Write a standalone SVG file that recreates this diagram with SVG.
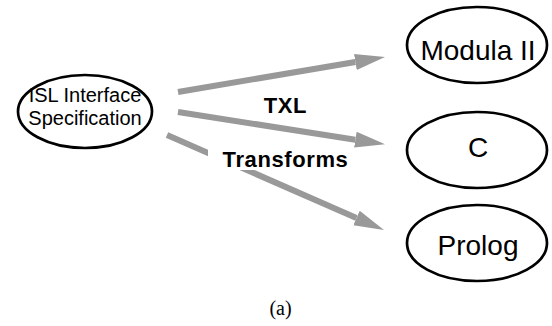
<svg xmlns="http://www.w3.org/2000/svg" width="552" height="326" viewBox="0 0 552 326">
  <style>
    .node { fill: #ffffff; stroke: #000000; stroke-width: 2.7; }
    .lbl { font-family: "Liberation Sans", Arial, Helvetica, sans-serif; fill: #000000; text-anchor: middle; }
    .big { font-size: 28px; }
    .small { font-size: 20px; }
    .edge-lbl { font-family: "Liberation Sans", Arial, Helvetica, sans-serif; font-weight: bold; font-size: 22px; fill: #000000; text-anchor: middle; letter-spacing: 0.6px; }
    .conn { stroke: #999999; stroke-width: 6; fill: none; marker-end: url(#ah); }
    .cap { font-family: "Liberation Serif", "Times New Roman", serif; font-size: 20px; fill: #000000; text-anchor: middle; }
  </style>
  <defs>
    <marker id="ah" markerUnits="userSpaceOnUse" markerWidth="32" markerHeight="18" viewBox="0 -9 32 18" refX="0" refY="0" orient="auto">
      <path d="M0,-8 L30,0 L0,8 z" fill="#999999"/>
    </marker>
  </defs>

  <rect width="552" height="326" fill="#ffffff"/>

  <g id="connectors">
    <line class="conn" x1="178" y1="92" x2="355.4" y2="62"/>
    <line class="conn" x1="178" y1="112" x2="355.4" y2="139.7"/>
    <line class="conn" x1="167" y1="135" x2="356.5" y2="218"/>
  </g>

  <g id="label-txl">
    <text class="edge-lbl" x="285.5" y="112.7">TXL</text>
  </g>
  <g id="label-transforms">
    <rect x="208" y="144" width="144" height="26" fill="#ffffff"/>
    <text class="edge-lbl" x="285.5" y="166.7">Transforms</text>
  </g>

  <g id="node-isl">
    <ellipse class="node" cx="85" cy="111.5" rx="67" ry="36.5"/>
    <text class="lbl small" x="85" y="101.7">ISL Interface</text>
    <text class="lbl small" x="85" y="125">Specification</text>
  </g>

  <g id="node-modula">
    <ellipse class="node" cx="477" cy="45" rx="70" ry="38"/>
    <text class="lbl big" x="478" y="60">Modula II</text>
  </g>

  <g id="node-c">
    <ellipse class="node" cx="477" cy="150" rx="70" ry="38"/>
    <text class="lbl big" x="478" y="157">C</text>
  </g>

  <g id="node-prolog">
    <ellipse class="node" cx="477" cy="243" rx="70" ry="38"/>
    <text class="lbl big" x="478" y="255">Prolog</text>
  </g>

  <text class="cap" x="280.5" y="315">(a)</text>
</svg>
